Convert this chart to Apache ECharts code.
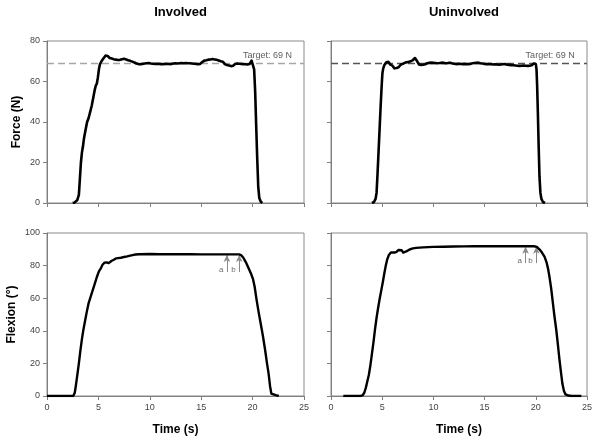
<!DOCTYPE html>
<html>
<head>
<meta charset="utf-8">
<script src="https://cdn.jsdelivr.net/npm/echarts@6/dist/echarts.min.js"></script>
<style>html,body{margin:0;padding:0;background:#fff}#c{width:600px;height:439px}</style>
</head>
<body>
<div id="c"></div>
<script>
// ---- data (time s, value) ----
const forceInvolved = [[2.5,0],[2.7,0.3],[2.95,1.5],[3.1,4],[3.2,12],[3.3,20],[3.4,25],[3.5,28],[3.6,32],[3.75,36],[3.9,40],[4.05,42],[4.2,45],[4.35,48],[4.5,52],[4.65,56],[4.75,58],[4.85,59],[4.95,62],[5.05,66],[5.15,68.5],
[5.3,70],[5.4,70.8],[5.5,71.5],[5.6,72.3],[5.7,72.8],[5.8,72.2],[5.9,72.6],
[6.0,72.4],[6.1,71.6],[6.2,72.1],[6.3,71.3],[6.4,71.9],[6.5,71.0],[6.6,71.6],[6.7,70.8],[6.8,71.4],[6.9,70.6],
[7.0,71.2],[7.1,70.7],[7.2,71.5],[7.3,71.0],[7.4,71.8],[7.5,71.2],[7.6,71.6],[7.7,70.9],[7.8,71.3],[7.9,70.5],
[8.0,70.9],[8.1,70.2],[8.2,70.6],[8.3,69.8],[8.4,70.1],[8.5,69.4],[8.6,69.7],[8.7,68.9],[8.8,69.3],[8.9,68.6],
[9.0,69.0],[9.1,68.5],[9.2,69.2],[9.3,68.7],[9.4,69.4],[9.5,68.9],[9.6,69.5],[9.7,69.0],[9.8,69.6],[9.9,69.1],
[10.0,69.5],[10.1,68.9],[10.2,69.3],[10.3,68.8],[10.4,69.4],[10.5,68.7],[10.6,69.2],[10.7,68.8],[10.8,69.3],[10.9,68.7],
[11.0,69.1],[11.1,68.6],[11.2,69.0],[11.3,68.5],[11.4,69.2],[11.5,68.7],[11.6,69.3],[11.7,68.8],[11.8,69.2],[11.9,68.6],
[12.0,69.1],[12.1,68.7],[12.2,69.4],[12.3,68.9],[12.4,69.6],[12.5,69.0],[12.6,69.4],[12.7,68.9],[12.8,69.5],[12.9,69.0],
[13.0,69.7],[13.1,69.1],[13.2,69.5],[13.3,69.0],[13.4,69.6],[13.5,69.1],[13.6,69.5],[13.7,69.0],[13.8,69.4],[13.9,69.0],
[14.0,69.5],[14.1,68.9],[14.2,69.4],[14.3,68.8],[14.4,69.3],[14.5,68.7],[14.6,69.2],[14.7,68.6],[14.8,69.0],[14.9,68.7],
[15.0,69.3],[15.1,69.6],[15.2,69.9],[15.3,70.3],[15.4,70.0],[15.5,70.5],[15.6,70.2],[15.7,70.8],[15.8,70.4],[15.9,70.9],
[16.0,70.5],[16.1,71.1],[16.2,70.6],[16.3,70.9],[16.4,70.3],[16.5,70.7],[16.6,70.1],[16.7,70.4],[16.8,69.8],[16.9,70.0],
[17.0,69.5],[17.1,69.8],[17.2,69.0],[17.3,68.6],[17.4,68.9],[17.5,68.1],[17.6,67.6],[17.7,67.9],[17.8,67.3],[17.9,67.6],
[18.0,67.1],[18.1,67.8],[18.2,68.1],[18.3,68.6],[18.4,68.3],[18.5,68.9],[18.6,68.4],[18.7,68.8],[18.8,68.2],[18.9,68.7],
[19.0,68.3],[19.1,68.6],[19.2,68.0],[19.3,68.5],[19.4,68.1],[19.5,68.4],[19.6,68.0],[19.7,68.6],[19.8,69.4],[19.9,70.3],
[20.0,70.4],[20.08,69.5],[20.15,66],[20.25,55],[20.35,38],[20.45,22],[20.55,8],[20.65,2.5],[20.8,0.6],[20.95,0]];
const forceUninvolved = [[4.0,0],[4.2,0.5],[4.35,2],[4.45,5],[4.55,15],[4.65,26],[4.75,37],[4.85,48],[4.95,58],[5.02,64],[5.1,66.5],
[5.2,68],[5.3,68.9],[5.4,69.5],[5.5,70.1],[5.6,69.7],[5.7,68.8],[5.8,68.3],[5.9,68.7],
[6.0,67.8],[6.1,67.1],[6.2,66.5],[6.3,66.0],[6.4,66.7],[6.5,67.3],[6.6,67.0],[6.7,67.8],[6.8,68.3],[6.9,68.0],
[7.0,68.7],[7.1,68.3],[7.2,69.2],[7.3,68.8],[7.4,69.5],[7.5,69.0],[7.6,69.7],[7.7,69.3],[7.8,70.0],[7.9,70.3],
[8.0,70.6],[8.1,71.0],[8.2,71.6],[8.3,71.2],[8.4,70.1],[8.5,69.2],[8.6,68.4],[8.7,68.9],[8.8,68.2],[8.9,68.7],
[9.0,68.3],[9.1,68.9],[9.2,68.5],[9.3,69.3],[9.4,69.0],[9.5,69.6],[9.6,69.2],[9.7,69.8],[9.8,69.3],[9.9,69.7],
[10.0,69.2],[10.1,69.6],[10.2,69.1],[10.3,69.5],[10.4,69.0],[10.5,69.4],[10.6,69.1],[10.7,69.7],[10.8,69.3],[10.9,69.8],
[11.0,69.2],[11.1,69.6],[11.2,69.0],[11.3,69.5],[11.4,69.1],[11.5,69.7],[11.6,69.3],[11.7,69.6],[11.8,69.0],[11.9,69.3],
[12.0,68.8],[12.1,69.1],[12.2,68.6],[12.3,69.0],[12.4,68.7],[12.5,69.2],[12.6,68.8],[12.7,69.1],[12.8,68.6],[12.9,69.0],
[13.0,68.7],[13.1,69.2],[13.2,68.6],[13.3,68.9],[13.4,68.5],[13.5,69.0],[13.6,68.7],[13.7,69.3],[13.8,69.0],[13.9,69.5],
[14.0,69.1],[14.1,69.6],[14.2,69.2],[14.3,69.7],[14.4,69.3],[14.5,69.5],[14.6,69.0],[14.7,69.4],[14.8,68.9],[14.9,69.2],
[15.0,68.7],[15.1,69.0],[15.2,68.5],[15.3,68.9],[15.4,68.6],[15.5,69.1],[15.6,68.6],[15.7,68.9],[15.8,68.4],[15.9,68.8],
[16.0,68.5],[16.1,68.9],[16.2,68.4],[16.3,68.8],[16.4,68.3],[16.5,68.7],[16.6,68.4],[16.7,68.9],[16.8,68.5],[16.9,69.0],
[17.0,68.6],[17.1,68.8],[17.2,68.3],[17.3,68.7],[17.4,68.2],[17.5,68.6],[17.6,68.1],[17.7,68.5],[17.8,68.0],[17.9,68.4],
[18.0,67.9],[18.1,68.3],[18.2,67.8],[18.3,68.2],[18.4,67.7],[18.5,68.1],[18.6,67.8],[18.7,68.3],[18.8,67.9],[18.9,68.4],
[19.0,67.8],[19.1,68.2],[19.2,67.7],[19.3,68.1],[19.4,67.8],[19.5,68.3],[19.6,68.0],[19.7,68.5],[19.8,68.9],[19.9,69.1],
[20.0,68.6],[20.07,66],[20.13,58],[20.2,45],[20.28,28],[20.36,13],[20.45,5],[20.55,2],[20.7,0.5],[20.9,0]];
const flexionInvolved = [[0,0],[1,0],[2,0],[2.55,0],[2.7,2],[2.8,6],[2.95,13],[3.1,20],[3.25,28],[3.4,35],[3.55,41],[3.7,46],[3.85,51],[4.05,57],[4.25,61],[4.45,65],[4.65,69],[4.85,73],[5.05,76.5],[5.25,78.5],[5.4,80.5],[5.6,81.8],[5.8,82],[6.0,81.5],[6.1,82.2],[6.3,83],[6.5,83.6],[6.7,84.4],[6.9,84.6],[7.2,84.8],[7.5,85.3],[7.8,85.7],[8.2,86.3],[8.6,86.8],[9.0,87],[10,87.1],[11,87],[12,87],[13,87],[14,87],[15,86.9],[16,86.9],[17,86.9],[18,86.9],[18.7,86.9],[18.9,86.3],[19.1,84.8],[19.35,82],[19.6,78.5],[19.85,75],[20.05,71.5],[20.2,67],[20.4,58.5],[20.6,51],[20.8,44],[21.0,37],[21.2,29],[21.4,20],[21.55,14],[21.7,6],[21.82,1.5],[21.95,0.8],[22.25,0.5],[22.55,0]];
const flexionUninvolved = [[1.2,0],[2.4,0],[2.9,0],[3.1,0.5],[3.25,2],[3.4,5],[3.55,9],[3.7,13],[3.85,19],[4.0,26],[4.15,33],[4.3,41],[4.45,48],[4.6,54],[4.75,59.5],[4.9,64.5],[5.05,69.5],[5.2,75],[5.35,80],[5.5,84],[5.65,86.5],[5.85,88],[6.0,88.4],[6.2,88],[6.4,88.4],[6.6,89.6],[6.75,90],[6.9,89.4],[7.05,88],[7.2,88.2],[7.4,88.9],[7.6,89.6],[7.9,90.4],[8.3,90.9],[9.0,91.2],[10,91.5],[11,91.6],[12,91.7],[13,91.8],[14,91.9],[15,91.9],[16,91.9],[17,91.9],[18,91.9],[19,91.9],[19.8,91.9],[20.1,91.5],[20.35,90],[20.6,88],[20.85,85.5],[21.05,82],[21.2,78],[21.35,72.5],[21.5,66],[21.65,58],[21.8,50],[22.0,40.5],[22.15,32],[22.3,23],[22.45,15],[22.6,7.5],[22.75,3],[22.9,1],[23.2,0.3],[23.5,0],[24.45,0]];
const targetForce = 69;
const targetLabel = 'Target: 69 N';
const targetLabelTime = [21.45, 21.4];
// arrows: [label, time, base value, tip value]
const arrowsInvolved = [['a', 17.5, 76, 86.5], ['b', 18.7, 76, 86.5]];
const arrowsUninvolved = [['a', 19.0, 81.5, 91.6], ['b', 20.05, 81.5, 91.6]];
const panelTitles = ['Involved', 'Uninvolved'];
const xTicks = {min: 0, max: 25, interval: 5};
const forceTicks = {min: 0, max: 80, interval: 20};
const flexionTicks = {min: 0, max: 100, interval: 20};

const FONT = "'Liberation Sans', Arial, sans-serif";
const axisGray = '#7f7f7f';

function xAxis(gridIndex, showLabels) {
  return {
    type: 'value', gridIndex, min: xTicks.min, max: xTicks.max, interval: xTicks.interval,
    axisLine: {show: true, lineStyle: {color: axisGray, width: 1}},
    axisTick: {show: true, length: 4, lineStyle: {color: axisGray}},
    axisLabel: {show: showLabels, margin: 7, fontSize: 9, color: '#444', fontFamily: FONT},
    splitLine: {show: false},
    name: showLabels ? 'Time (s)' : '', nameLocation: 'middle', nameGap: 28,
    nameTextStyle: {fontSize: 12, fontWeight: 'bold', color: '#000', fontFamily: FONT}
  };
}
function yAxis(gridIndex, ticks, showLabels, name, gap) {
  return {
    type: 'value', gridIndex, min: ticks.min, max: ticks.max, interval: ticks.interval,
    axisLine: {show: true, lineStyle: {color: axisGray, width: 1}},
    axisTick: {show: true, length: 4, lineStyle: {color: axisGray}},
    axisLabel: {show: showLabels, margin: 7, fontSize: 9, color: '#444', fontFamily: FONT},
    splitLine: {show: false},
    name: name, nameLocation: 'middle', nameGap: gap, nameRotate: 90,
    nameTextStyle: {fontSize: 12, fontWeight: 'bold', color: '#000', fontFamily: FONT}
  };
}
function dataLine(idx, data, w) {
  return {
    type: 'line', xAxisIndex: idx, yAxisIndex: idx, data, showSymbol: false, symbol: 'none',
    lineStyle: {color: '#000', width: w, join: 'round'}, z: 5, silent: true
  };
}
function targetSeries(idx, color, t) {
  return {
    type: 'scatter', xAxisIndex: idx, yAxisIndex: idx, symbolSize: 1,
    itemStyle: {color: 'rgba(0,0,0,0)'}, silent: true,
    data: [[t, targetForce]],
    label: {show: true, position: 'top', distance: 3, formatter: targetLabel, fontSize: 9, color: '#333', fontFamily: FONT},
    markLine: {
      silent: true, symbol: 'none', animation: false,
      lineStyle: {color: color, width: 1.3, type: [7, 4]},
      label: {show: false},
      data: [{yAxis: targetForce}]
    }
  };
}
function arrowSeries(idx, arrows) {
  return {
    type: 'scatter', xAxisIndex: idx, yAxisIndex: idx, symbolSize: 1,
    itemStyle: {color: 'rgba(0,0,0,0)'}, silent: true,
    data: arrows.map(a => ({name: a[0], value: [a[1], a[2] + 1.5]})),
    label: {show: true, position: 'left', distance: 3, formatter: p => p.name, fontSize: 8, color: '#444', fontFamily: FONT},
    markLine: {
      silent: true, symbol: ['none', 'arrow'], symbolSize: [5, 7], animation: false,
      lineStyle: {color: '#8a8a8a', width: 1, type: 'solid'},
      label: {show: false},
      data: arrows.map(a => [{coord: [a[1], a[2]]}, {coord: [a[1], a[3]]}])
    }
  };
}

const chart = echarts.init(document.getElementById('c'), null, {renderer: 'canvas'});
chart.setOption({
  animation: false,
  backgroundColor: '#fff',
  title: [
    {text: panelTitles[0], left: 175.5, top: 1, textAlign: 'center', textStyle: {fontSize: 13, fontWeight: 'bold', color: '#000', fontFamily: FONT}},
    {text: panelTitles[1], left: 459, top: 1, textAlign: 'center', textStyle: {fontSize: 13, fontWeight: 'bold', color: '#000', fontFamily: FONT}}
  ],
  grid: [
    {left: 47, top: 41, right: 296, bottom: 236, show: true, borderColor: '#8a8a8a', borderWidth: 1},
    {left: 331, top: 41, right: 13, bottom: 236, show: true, borderColor: '#8a8a8a', borderWidth: 1},
    {left: 47, top: 233, right: 296, bottom: 43, show: true, borderColor: '#8a8a8a', borderWidth: 1},
    {left: 331, top: 233, right: 13, bottom: 43, show: true, borderColor: '#8a8a8a', borderWidth: 1}
  ],
  xAxis: [xAxis(0, false), xAxis(1, false), xAxis(2, true), xAxis(3, true)],
  yAxis: [
    yAxis(0, forceTicks, true, 'Force (N)', 24),
    yAxis(1, forceTicks, false, '', 20),
    yAxis(2, flexionTicks, true, 'Flexion (°)', 29),
    yAxis(3, flexionTicks, false, '', 20)
  ],
  series: [
    targetSeries(0, '#a6a6a6', targetLabelTime[0]),
    targetSeries(1, '#555555', targetLabelTime[1]),
    dataLine(0, forceInvolved, 2.6),
    dataLine(1, forceUninvolved, 2.6),
    dataLine(2, flexionInvolved, 2.4),
    dataLine(3, flexionUninvolved, 2.4),
    arrowSeries(2, arrowsInvolved),
    arrowSeries(3, arrowsUninvolved)
  ]
});
</script>
</body>
</html>
